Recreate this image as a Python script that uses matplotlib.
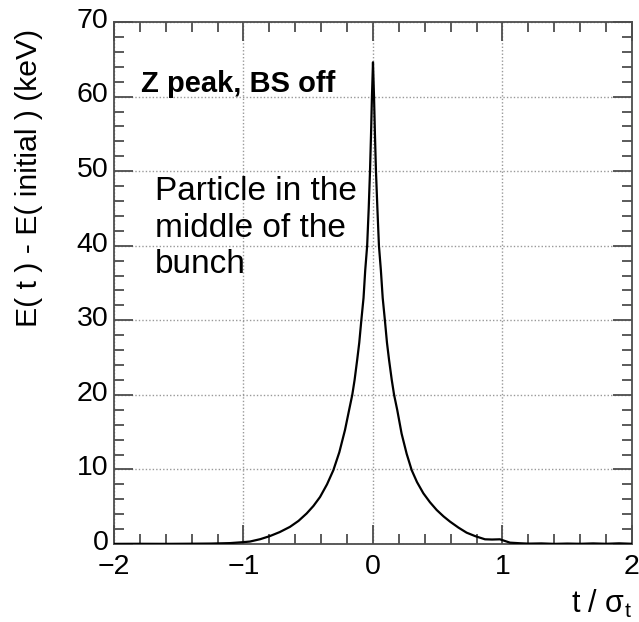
import matplotlib
matplotlib.use("Agg")
from matplotlib import pyplot as plt
from matplotlib.ticker import MultipleLocator
from matplotlib.transforms import ScaledTranslation

plt.rcParams['font.family'] = ['Liberation Sans', 'DejaVu Sans']
plt.rcParams['mathtext.fontset'] = 'custom'
plt.rcParams['mathtext.rm'] = 'Liberation Sans'
plt.rcParams['mathtext.it'] = 'Liberation Sans'

# energy change vs position in the bunch
t_sigma = [-2.0, -1.8, -1.6, -1.4, -1.25, -1.104, -1.0, -0.95, -0.87, -0.795,
           -0.72, -0.641, -0.575, -0.512, -0.46, -0.409, -0.355, -0.306, -0.26,
           -0.216, -0.184, -0.16, -0.142, -0.122, -0.106, -0.09, -0.073, -0.06,
           -0.045, -0.033, -0.023, -0.015, -0.008, 0.0,
           0.008, 0.015, 0.023, 0.034, 0.046, 0.061, 0.075, 0.092, 0.108,
           0.124, 0.145, 0.163, 0.187, 0.221, 0.26, 0.299, 0.34, 0.389, 0.44,
           0.492, 0.545, 0.595, 0.66, 0.723, 0.79, 0.865, 0.92, 0.98, 1.02,
           1.058, 1.135, 1.2, 1.3, 1.4, 1.5, 1.6, 1.7, 1.8, 1.9, 2.0]
delta_e = [0.02, 0.03, 0.02, 0.04, 0.06, 0.12, 0.25, 0.33, 0.65, 1.07,
           1.6, 2.3, 3.1, 4.1, 5.1, 6.3, 8.0, 9.9, 12.3,
           15.3, 18.0, 20.0, 22.0, 24.7, 27.0, 30.0, 33.0, 36.7,
           40.0, 45.0, 50.0, 55.0, 60.0, 64.6,
           60.0, 55.0, 50.0, 45.0, 40.0, 36.7, 33.0, 30.0, 27.0,
           24.7, 22.0, 20.0, 18.0, 14.8, 12.1, 9.9, 8.3, 6.8, 5.6,
           4.56, 3.7, 3.0, 2.2, 1.52, 1.05, 0.63, 0.6, 0.63, 0.4,
           0.18, 0.1, 0.05, 0.08, 0.02, 0.06, 0.03, 0.08, 0.03, 0.09, 0.03]

fig = plt.figure(figsize=(6.39, 6.22), dpi=100)
ax = fig.add_axes([0.1784, 0.1254, 0.8106, 0.8392])

ax.plot(t_sigma, delta_e, color='black', lw=1.6, zorder=3)

ax.set_xlim(-2, 2)
ax.set_ylim(0, 70)
ax.xaxis.set_major_locator(MultipleLocator(1))
ax.xaxis.set_minor_locator(MultipleLocator(0.2))
ax.yaxis.set_major_locator(MultipleLocator(10))
ax.yaxis.set_minor_locator(MultipleLocator(2))

frame = '#4d4d4d'
for sp in ax.spines.values():
    sp.set_color(frame)
    sp.set_linewidth(1.3)
ax.tick_params(which='both', direction='in', top=True, right=True,
               color=frame, width=1.3, labelsize=20.5, labelcolor='black')
ax.tick_params(which='major', length=14)
ax.tick_params(which='minor', length=7)
ax.tick_params(axis='x', pad=7)
ax.tick_params(axis='y', pad=4)
ax.grid(True, which='major', color='#999999', linestyle=(0, (1, 1.5)), lw=1.0)

# ROOT puts the y labels a touch above their ticks
nudge = ScaledTranslation(0, 3 / 72, fig.dpi_scale_trans)
for lab in ax.get_yticklabels():
    lab.set_transform(lab.get_transform() + nudge)

ax.text(-1.794, 60.65, 'Z peak, BS off', fontsize=21, fontweight='bold',
        ha='left', va='baseline')
ax.text(-1.683, 36.34, 'Particle in the\nmiddle of the\nbunch', fontsize=24,
        ha='left', va='baseline', linespacing=1.22)

fig.text(0.0454, 0.7146, 'E( t ) - E( initial ) (keV)', rotation=90,
         fontsize=21.8, ha='center', va='center')
fig.text(0.989, 1 - 613 / 622, r't / $\mathregular{\sigma_t}$', fontsize=22,
         ha='right', va='baseline')

fig.savefig('out.png', dpi=100)
